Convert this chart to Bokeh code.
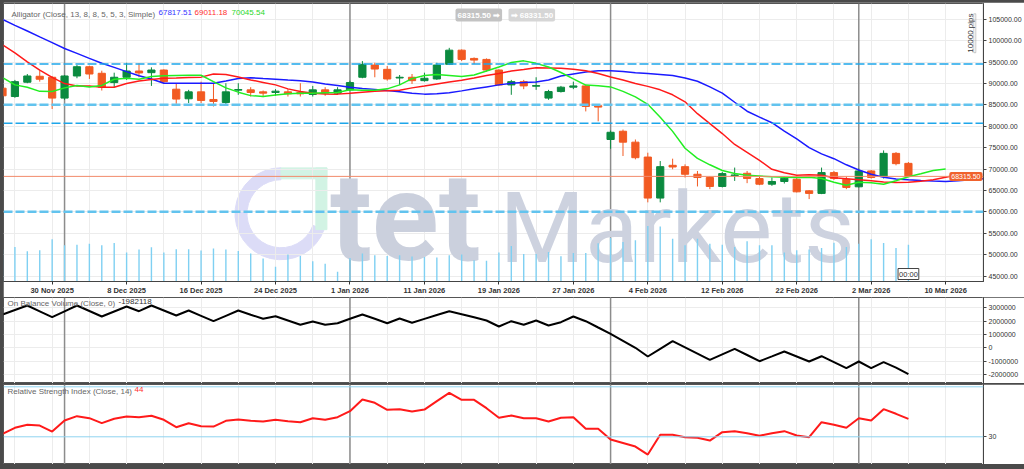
import math
from bokeh.plotting import figure
from bokeh.layouts import column
from bokeh.models import Range1d, FixedTicker, Span, Label, BoxAnnotation, ColumnDataSource
from bokeh.embed import file_html
from bokeh.resources import INLINE

# ---------------------------------------------------------------- data
first_bar = -4  # bar index of the first (partly visible) candle; bar 0 = 30 Nov 2025

opens = [88920, 86970, 90310, 91700, 91470, 86600, 91770, 93930, 92400, 90230,
         91470, 92930, 92540, 93160, 88680, 86440, 88060, 86280, 85580, 88460,
         88530, 88060, 87910, 88060, 87900, 87450, 88530, 87760, 88530, 91470,
         94320, 93320, 91300, 91470, 90680, 91070, 94490, 97800, 95870, 95640,
         93160, 89680, 90450, 89380, 86600, 88130, 89150, 89450, 84820, 76930,
         78860, 76310, 72830, 63250, 70900, 70590, 68810, 68050, 65960, 68500,
         69040, 67810, 66490, 67120, 67650, 64940, 64340, 69200, 67650, 65880,
         69580, 68280, 73690, 71360]
highs = [89200, 90850, 92230, 93000, 91770, 92000, 94320, 94160, 93000, 92540,
         94860, 94710, 93790, 93320, 90080, 88530, 90450, 90080, 90080, 90080,
         89150, 88370, 88690, 88690, 90080, 89450, 89150, 89150, 90680, 95250,
         94860, 94090, 92000, 92230, 92540, 94860, 98340, 97970, 96110, 95870,
         93320, 90850, 90850, 91470, 88530, 89450, 90450, 89680, 85050, 79020,
         79250, 76930, 73850, 71900, 72450, 71130, 69580, 68280, 69350, 70370,
         69580, 68280, 68050, 68280, 68420, 65100, 70370, 69580, 68280, 70140,
         69810, 74380, 73990, 71670]
lows = [86900, 86670, 90080, 90450, 84050, 86200, 91240, 91080, 88370, 89150,
        90850, 91470, 89450, 90080, 85280, 85440, 85440, 84650, 85050, 87370,
        86970, 86830, 87140, 86970, 86970, 86970, 87140, 87370, 88300, 91240,
        91470, 90680, 89680, 89910, 90450, 90850, 94320, 95250, 94560, 92770,
        89450, 87370, 88690, 88530, 86200, 87900, 88690, 83490, 81180, 74770,
        73070, 72290, 62250, 62250, 69970, 68050, 65960, 65330, 65730, 67260,
        66730, 66260, 66100, 66650, 64570, 63010, 64170, 67490, 65330, 65730,
        67810, 67810, 70900, 68280]
closes = [87140, 90450, 91770, 91010, 86600, 91770, 93930, 92230, 89150, 91470,
          92930, 92470, 93160, 90450, 86370, 88060, 86050, 85820, 88060, 88600,
          87910, 87760, 88220, 87600, 87600, 88530, 87760, 88530, 90230, 94490,
          93390, 91070, 91470, 90680, 91240, 94320, 97800, 95640, 95480, 93160,
          89680, 90450, 89450, 89530, 88130, 89150, 89450, 84650, 84500, 78620,
          76310, 72680, 63250, 70590, 70510, 68810, 68050, 65960, 68970, 68650,
          67810, 66490, 67120, 67880, 64710, 64340, 69200, 67810, 65730, 69580,
          68050, 73690, 71290, 68315.50]
volumes = [32000, 34700, 30300, 31300, 42300, 36300, 37000, 38000, 36300, 38700,
           29000, 32000, 34300, 29000, 32300, 32300, 31000, 33000, 32000, 30700,
           28000, 23000, 14700, 27000, 25700, 20300, 17700, 9700, 23700, 28000,
           26300, 25700, 26300, 25000, 24700, 24000, 26300, 27000, 21300, 20700,
           29000, 35700, 27700, 27700, 29700, 25300, 28700, 28700, 38300, 43700,
           39700, 41300, 55700, 55300, 43000, 36300, 43000, 38000, 37000, 34700,
           40300, 36300, 36300, 29000, 31300, 32000, 33700, 39000, 34700, 38000,
           42300, 38700, 33700, 37000]

# Alligator lines (already shifted forward: jaw +8, teeth +5, lips +3 bars)
jaw = [105000, 103600, 102280, 100910, 99570, 98200, 97040, 95880, 94740, 93770,
       92790, 91840, 91050, 90080, 90080, 90080, 90080, 90080, 90610, 91190,
       91360, 91190, 91030, 90850, 90680, 90380, 89920, 89570, 89150, 88870,
       88640, 88360, 88060, 87760, 87530, 87640, 87830, 88290, 88760, 89220,
       89690, 90080, 90220, 90380, 90850, 91770, 92240, 92700, 93000, 93000,
       92820, 92540, 92350, 92120, 91890, 91310, 90540, 89220, 87760, 85630,
       83540, 82150, 80850, 78900, 77050, 75030, 73570, 72450, 71020, 69810,
       68810, 68120, 67720, 67540, 67370, 67240, 67140, 67300, 67540, 67770,
       67890, 67817.51]
teeth = [99030, 97150, 95070, 93120, 91450, 90000, 89450, 89450, 89150, 89150,
         90030, 90610, 90960, 91240, 91310, 91430, 91500, 92240, 92120, 91540,
         90850, 90270, 89690, 88760, 88130, 87710, 87550, 87530, 87710, 87990,
         88180, 88290, 88460, 88990, 89450, 89920, 90380, 90780, 91310, 91890,
         92350, 92930, 93280, 93700, 93630, 93560, 93330, 93000, 92350, 91540,
         90850, 90030, 89340, 88530, 87370, 85740, 82960, 80640, 78320, 75770,
         73910, 72060, 69970, 69160, 68580, 68700, 68580, 68000, 67770, 67540,
         67300, 67030, 66890, 66960, 67190, 67540, 68120, 68700, 69011.18]
lips = [91380, 89690, 89150, 88180, 88130, 88990, 89570, 89180, 89570, 91010,
        91240, 91030, 91660, 91840, 91890, 91940, 91940, 90450, 88990, 87990,
        87180, 86970, 87320, 87600, 87760, 87760, 87830, 87900, 88530, 88410,
        88460, 88760, 89690, 91150, 91890, 92120, 91890, 91630, 92000, 92930,
        93860, 94900, 95300, 94720, 93860, 92590, 91080, 89640, 89500, 89220,
        88180, 86900, 85160, 82150, 78830, 74890, 72520, 71020, 69690, 68980,
        68580, 68400, 68230, 68120, 68070, 68120, 67820, 66960, 66260, 66960,
        66840, 66490, 67300, 68230, 68930, 69670, 70045.54]

obv = [2504000, 2842000, 3180000, 2744000, 2301000, 2744000, 3180000, 2767000, 2353000, 2729000,
       3105000, 2752000, 3180000, 2805000, 2429000, 2805000, 2406000, 2000000, 2406000, 2805000,
       2489000, 2180000, 2376000, 2053000, 1729000, 1977000, 1729000, 1850000, 2180000, 2504000,
       2180000, 1850000, 2203000, 1880000, 2173000, 2466000, 2752000, 2526000, 2301000, 2053000,
       1602000, 2000000, 1729000, 2053000, 1677000, 1925000, 2353000, 2000000, 1526000, 1053000,
       526000, 0, -654000, -75000, 496000, 30000, -436000, -902000, -489000, -75000,
       -541000, -1008000, -647000, -278000, -654000, -1030000, -632000, -1083000, -1534000, -1030000,
       -1534000, -1083000, -1496000, -1982118]
rsi = [32.4, 37.2, 39.6, 39.0, 34.2, 43.0, 46.5, 44.9, 40.9, 44.4,
       46.2, 45.7, 46.8, 43.6, 37.7, 40.9, 38.5, 38.2, 42.8, 43.8,
       42.8, 42.2, 43.6, 42.5, 41.7, 44.9, 43.6, 45.7, 50.5, 59.8,
       57.2, 51.6, 52.1, 50.2, 51.8, 58.5, 65.2, 59.6, 59.6, 52.9,
       45.2, 47.0, 44.9, 44.9, 42.2, 45.2, 45.7, 36.4, 36.4, 27.8,
       25.0, 22.2, 15.8, 31.6, 31.6, 29.7, 29.2, 27.0, 33.7, 34.5,
       32.9, 30.8, 32.9, 34.5, 31.0, 29.7, 41.7, 39.6, 37.2, 44.9,
       43.0, 52.1, 48.4, 44.3]

tick_bars = [0, 6, 12, 18, 24, 30, 36, 42, 48, 54, 60, 66, 72]
tick_labels = ["30 Nov 2025", "8 Dec 2025", "16 Dec 2025", "24 Dec 2025", "1 Jan 2026",
               "11 Jan 2026", "19 Jan 2026", "27 Jan 2026", "4 Feb 2026", "12 Feb 2026",
               "22 Feb 2026", "2 Mar 2026", "10 Mar 2026"]
grid_bars = list(range(-3, 78, 3))
month_start_bars = [1, 24, 45, 65]
price_ticks = [45000, 50000, 55000, 60000, 65000, 70000, 75000, 80000, 85000,
               90000, 95000, 100000, 105000]
obv_ticks = [-2000000, -1000000, 0, 1000000, 2000000, 3000000]
rsi_levels = [30, 70]
rsi_ticks = [30]
level_lines = [94550, 85050, 80700, 60070]
bid_price = 68315.50
ask_price = 68331.50

# ---------------------------------------------------------------- style
FONT = "Liberation Sans"
GREEN = "#0b8a3f"
RED = "#f25a22"
VOL = "#7fd0f2"
FRAME_DARK = "#4a4a4a"
W = 1021          # figure width (3px dark strip on the left from the layout background)
RIGHT = 39
x_range = Range1d(-3.92, 75.05)

n = len(opens)
bars = list(range(first_bar, first_bar + n))


def make_fig(height, y_range, top, bottom, margin, x_loc=None):
    p = figure(width=W, height=height, x_range=x_range, y_range=y_range,
               x_axis_location=x_loc, y_axis_location="right",
               output_backend="svg", toolbar_location=None, tools="",
               min_border_left=0, min_border_right=RIGHT,
               min_border_top=top, min_border_bottom=bottom, margin=margin,
               outline_line_color="#555555", outline_line_width=1,
               background_fill_color="white", border_fill_color="white")
    p.xgrid.ticker = FixedTicker(ticks=grid_bars)
    p.xgrid.grid_line_color = "#ececec"
    p.ygrid.grid_line_color = "#ececec"
    ax = p.yaxis[0]
    ax.major_label_text_font = FONT
    ax.major_label_text_font_size = "7px"
    ax.major_label_text_color = "#333333"
    ax.axis_line_color = "#444444"
    ax.major_tick_line_color = "#444444"
    ax.major_tick_out = 3
    ax.major_tick_in = 0
    ax.minor_tick_line_color = None
    ax.major_label_standoff = 2
    for b in month_start_bars:
        p.add_layout(Span(location=b, dimension="height", line_color="#8c8c8c",
                          line_width=1.5, level="underlay"))
    return p


def add_text(p, x, y, text, color, dx=0, dy=0, size="8px", **kw):
    p.add_layout(Label(x=x, y=y, x_offset=dx, y_offset=dy, text=text, text_color=color,
                       text_font=FONT, text_font_size=size, **kw))


x0, x1 = x_range.start, x_range.end

# ---------------------------------------------------------------- main panel
y_main = Range1d(43760, 108700)
p1 = make_fig(295, y_main, 1, 0, (2, 0, 0, 3), x_loc="below")
p1.extra_y_ranges = {"vol": Range1d(0, 279000)}
p1.yaxis.ticker = FixedTicker(ticks=price_ticks)
p1.yaxis.major_label_overrides = {t: f"{t}.00" for t in price_ticks}
xa = p1.xaxis[0]
xa.ticker = FixedTicker(ticks=tick_bars)
xa.major_label_overrides = {b: lab for b, lab in zip(tick_bars, tick_labels)}
xa.major_label_text_font = FONT
xa.major_label_text_font_size = "7.5px"
xa.major_label_text_font_style = "bold"
xa.major_label_text_color = "#333333"
xa.axis_line_color = "#444444"
xa.major_tick_line_color = "#333333"
xa.major_tick_out = 3
xa.major_tick_in = 0
xa.minor_tick_line_color = None
xa.major_label_standoff = 1

# watermark logo (decoration)
p1.annular_wedge(x=18.44, y=59590, inner_radius=34, outer_radius=46,
                 inner_radius_units="screen", outer_radius_units="screen",
                 start_angle=math.pi / 2, end_angle=-0.35, direction="anticlock",
                 color="#dcdcf7", level="underlay")
p1.quad(left=[18.44, 21.25], right=[22.14, 22.14], top=[70300, 70300],
        bottom=[67740, 55870], color="#d2f3e4", level="underlay")
p1.add_layout(Label(x=22.38, y=41830, text="tet", text_font="Roboto", text_font_style="bold",
                    text_font_size="124px", text_color="#cbd0dd", level="underlay"))
p1.add_layout(Label(x=36.05, y=42800, text="Markets", text_font="Roboto",
                    text_font_size="98px", text_color="#cdd2df", level="underlay"))

# volume
p1.segment(x0=bars, y0=[0] * n, x1=bars, y1=volumes, line_color=VOL, line_width=1.4,
           y_range_name="vol")

# horizontal levels
for lv, w, c in zip(level_lines, [1.5, 2.5, 1.5, 2.5], ["#1ea6ea", "#62c3ee", "#1ea6ea", "#62c3ee"]):
    p1.add_layout(Span(location=lv, dimension="width", line_color=c, line_width=w,
                       line_dash="9 3"))
p1.add_layout(Span(location=closes[-1], dimension="width", line_color="#f28a6a", line_width=1))

# candles
colors = [GREEN if c >= o else RED for o, c in zip(opens, closes)]
src = ColumnDataSource(dict(x=bars, h=highs, l=lows,
                            top=[max(o, c) for o, c in zip(opens, closes)],
                            bottom=[min(o, c) for o, c in zip(opens, closes)],
                            color=colors))
p1.segment(x0="x", y0="h", x1="x", y1="l", line_color="color", line_width=1, source=src)
p1.vbar(x="x", width=0.58, top="top", bottom="bottom", fill_color="color",
        line_color="color", line_width=1, source=src)

# alligator
p1.line(list(range(first_bar, first_bar + len(jaw))), jaw, line_color="#1a1aff", line_width=1.5)
p1.line(list(range(first_bar, first_bar + len(teeth))), teeth, line_color="#ff1a1a", line_width=1.5)
p1.line(list(range(first_bar, first_bar + len(lips))), lips, line_color="#22ee22", line_width=1.5)

add_text(p1, x0, y_main.end, "Alligator (Close, 13, 8, 8, 5, 5, 3, Simple)", "#666666",
         dx=8, dy=-6, text_baseline="top")
add_text(p1, x0, y_main.end, f"{jaw[-1]:.2f}", "#3535ff", dx=155, dy=-6, text_baseline="top")
add_text(p1, x0, y_main.end, f"{teeth[-1]:.2f}", "#ff3030", dx=191, dy=-6, text_baseline="top")
add_text(p1, x0, y_main.end, f"{lips[-1]:.2f}", "#2ad82a", dx=228, dy=-6, text_baseline="top")

for dx, txt, bg in [(452, f"{bid_price:.2f} \u27a1", "#c3c3c3"), (505, f"\u27a1 {ask_price:.2f}", "#d6d6d6")]:
    p1.add_layout(Label(x=x0, y=y_main.end, x_offset=dx, y_offset=-5, text=txt,
                        text_font=FONT, text_font_size="8px", text_font_style="bold",
                        text_color="white", text_baseline="top",
                        background_fill_color=bg, padding=2, border_radius=2))

p1.add_layout(Label(x=x1, y=y_main.end, x_offset=-9, y_offset=-10, angle=math.pi / 2,
                    text="10000 pips", text_font=FONT, text_font_size="8px",
                    text_color="#333333", text_align="right", text_baseline="bottom"))
p1.add_layout(BoxAnnotation(left=x1 - 0.78, right=x1 - 0.62, top=106300, bottom=97200,
                            fill_alpha=0, line_color="#555555", line_width=1))

# time marker of the last bar and last-price tag (kept inside the frame)
p1.add_layout(Label(x=bars[-1], y=y_main.start, y_offset=2, text="00:00", text_font=FONT,
                    text_font_size="7.5px", text_color="#333333", text_align="center",
                    text_baseline="bottom", background_fill_color="white",
                    border_line_color="#444444", padding=1))
p1.add_layout(Label(x=x1, y=closes[-1], x_offset=-1, text=f"{closes[-1]:.2f}", text_font=FONT,
                    text_font_size="7px", text_color="white", text_baseline="middle",
                    text_align="right", background_fill_color="#f0622d", padding=2,
                    border_radius=2))

# ---------------------------------------------------------------- OBV panel
obv_top = 3782000
p2 = make_fig(86, Range1d(-2684000, obv_top), 0, 0, (0, 0, 0, 3))
p2.yaxis.ticker = FixedTicker(ticks=obv_ticks)
p2.ygrid.ticker = FixedTicker(ticks=obv_ticks)
p2.yaxis.major_label_overrides = {t: str(t) for t in obv_ticks}
p2.line(bars, obv, line_color="black", line_width=2)
add_text(p2, x0, obv_top, "On Balance Volume (Close, 0)", "#666666", dx=4, dy=-1, text_baseline="top")
add_text(p2, x0, obv_top, f"{obv[-1]}", "#333333", dx=115, dy=-1, text_baseline="top")

# ---------------------------------------------------------------- RSI panel
rsi_top = 71.84
p3 = make_fig(80, Range1d(7.84, rsi_top), 0, 0, (1, 0, 5, 3))
p3.yaxis.ticker = FixedTicker(ticks=rsi_ticks)
p3.ygrid.grid_line_color = None
for lv in rsi_levels:
    p3.add_layout(Span(location=lv, dimension="width", line_color="#8fd3f0", line_width=1))
p3.line(bars, rsi, line_color="#ff1a1a", line_width=2)
add_text(p3, x0, rsi_top, "Relative Strength Index (Close, 14)", "#666666", dx=4, dy=-2, text_baseline="top")
add_text(p3, x0, rsi_top, f"{int(rsi[-1])}", "#ff3030", dx=131, dy=-2, text_baseline="top")

layout = column(p1, p2, p3, spacing=0, styles={"background-color": FRAME_DARK})
open("out.html", "w").write(file_html(layout, INLINE))
